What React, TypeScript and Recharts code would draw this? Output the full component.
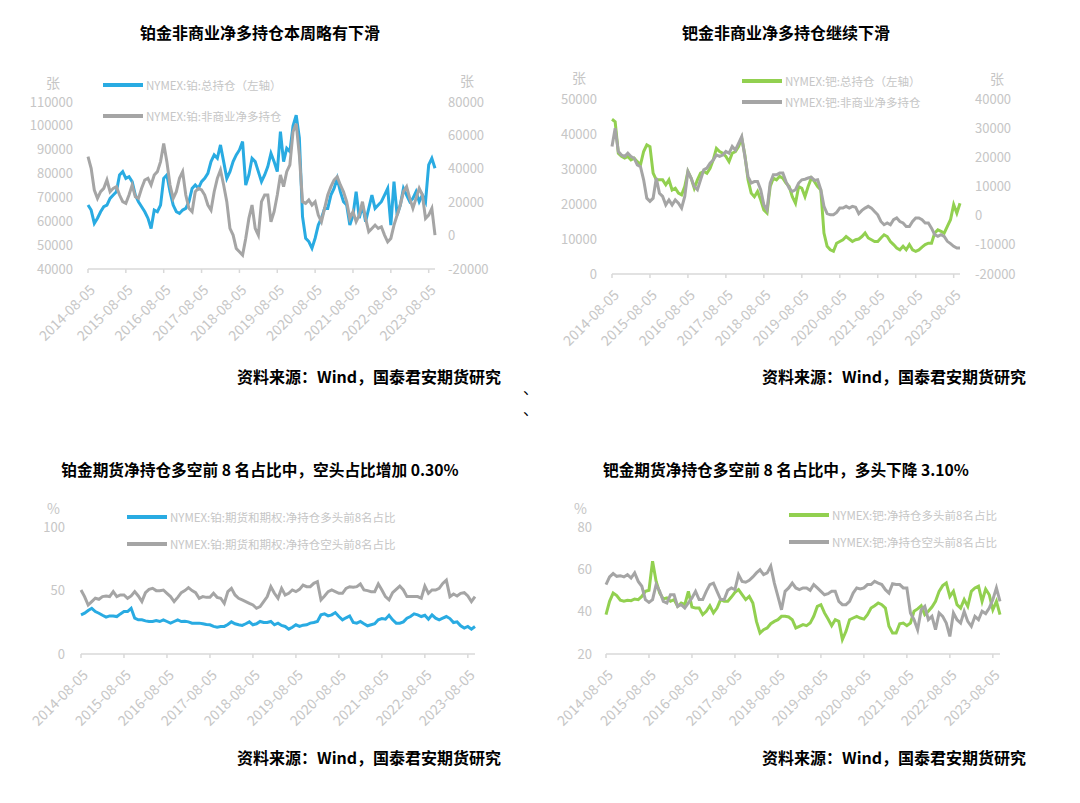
import React from 'react';
import { LineChart, Line, XAxis, YAxis } from 'recharts';

const FONT = "'Noto Sans CJK SC', 'Noto Sans', sans-serif";
const TICK = '#c6c6c6';
const AXIS = '#d9d9d9';
const BLUE = '#29abe2';
const GRAY = '#a5a5a5';
const GREEN = '#92d050';

// x is a month index, 0 = 2014-08 ... 110 = 2023-10
const yearTicks = [0, 12, 24, 36, 48, 60, 72, 84, 96, 108];
const tickLabels = [
  '2014-08-05', '2015-08-05', '2016-08-05', '2017-08-05', '2018-08-05',
  '2019-08-05', '2020-08-05', '2021-08-05', '2022-08-05', '2023-08-05',
];

// 铂: 总持仓 (left axis)
const ptTotalOI = [
  66800, 64700, 59100, 61300, 64000, 66100, 66800, 69600, 71000, 72400,
  79400, 80800, 78000, 78700, 76600, 71000, 68200, 66100, 64000, 61300,
  57000, 64700, 64000, 66800, 78000, 79400, 72400, 66800, 64000, 63300,
  64700, 65400, 68200, 73800, 75200, 73800, 76600, 78000, 80100, 85000,
  87800, 86400, 92000, 85000, 78000, 80800, 85000, 87800, 89900, 93400,
  75200, 79400, 86400, 85000, 80800, 76600, 79400, 82900, 88500, 85000,
  80800, 97600, 85000, 90600, 89200, 100000, 104500, 95000, 62000, 52900,
  51500, 48700, 52900, 58400, 61300, 65400, 65400, 71000, 73800, 78000,
  72400, 68200, 66800, 58400, 62600, 72400, 61300, 66800, 59800, 65400,
  71000, 65400, 66800, 68200, 71000, 73800, 58400, 76600, 62600, 66800,
  73800, 71000, 68200, 69600, 72400, 68200, 71000, 68200, 83600, 86400, 82200,
];
// 铂: 非商业净多持仓 (right axis)
const ptNetLong = [
  47300, 40300, 27300, 22300, 26300, 28300, 33300, 26300, 28300, 29300,
  24300, 20300, 19300, 24300, 30300, 23300, 22300, 28300, 33300, 34300,
  30300, 36300, 38300, 44300, 55200, 44300, 30300, 22300, 26300, 34300,
  38300, 24300, 16300, 14300, 26300, 28300, 27300, 24300, 18300, 15300,
  26300, 34300, 39300, 30300, 20300, 4300, 300, -7700, -9700, -11700,
  -1700, 10300, 18300, 4300, 300, 20300, 24300, 24300, 8300, 14300,
  24300, 36300, 29300, 38300, 42300, 62200, 67000, 48200, 20300, 19300,
  21300, 18300, 20300, 12300, 8300, 16300, 24300, 29300, 33300, 35300,
  30300, 26300, 20300, 10300, 14300, 8300, 12300, 20300, 10300, 2300,
  4300, 6300, 4300, 5300, 300, -3700, -1700, 6300, 12300, 18300,
  26300, 29300, 22300, 16300, 22300, 28300, 24300, 10300, 12300, 16300, 300,
];

// 钯: 总持仓 (left axis)
const pdTotalOI = [
  44200, 43500, 34500, 33600, 33100, 33600, 32600, 33100, 32100, 31200,
  35000, 36900, 36400, 28800, 26900, 26900, 26900, 25500, 26900, 24000,
  24500, 23100, 22600, 25000, 29300, 27400, 24500, 26900, 28800, 29300,
  28800, 30200, 32600, 35900, 35000, 34500, 33600, 32100, 34500, 35000,
  36400, 38800, 34000, 26900, 23100, 22100, 23600, 21200, 18300, 17400,
  25000, 27400, 26900, 27900, 27400, 26000, 25000, 22100, 20200, 25000,
  24500, 22100, 25000, 27400, 26400, 25000, 24000, 11700, 7900, 6900,
  6500, 8800, 9300, 9800, 10700, 10000, 9300, 9800, 10000, 10700,
  11700, 10300, 9800, 9300, 9300, 10300, 11200, 10700, 9300, 8400,
  7400, 6900, 7900, 6900, 8400, 6900, 6500, 6900, 7700, 8400,
  8800, 8800, 11700, 12600, 12200, 11700, 13600, 15500, 19800, 17400, 20200,
];
// 钯: 非商业净多持仓 (right axis)
const pdNetLong = [
  23700, 30000, 22000, 20800, 20300, 21400, 20300, 19700, 17400, 16800,
  12300, 6000, 4900, 6000, 12900, 7700, 6600, 3700, 5400, 3700,
  5400, 4300, 2600, 6600, 15100, 12900, 10000, 8900, 12300, 15700,
  16300, 18000, 19100, 20800, 20300, 20800, 22000, 21400, 23700, 22500,
  24800, 27100, 20300, 13400, 11200, 11700, 11700, 8900, 3700, 2000,
  11200, 14000, 14000, 14600, 14600, 11700, 9400, 8300, 8900, 11200,
  12300, 12500, 12900, 13200, 12100, 12300, 8900, 3200, 700, 300,
  300, 1100, 2600, 2600, 3200, 2600, 3200, 2900, 700, 1800,
  2600, 3200, 2600, 1400, 300, -2000, -3100, -2500, -3100, -1400,
  -800, -2000, -2500, -3700, -3700, -2000, -800, -800, -1400, -2500,
  -2500, -4300, -6500, -7100, -6500, -7100, -8800, -9600, -10500, -11100, -11100,
];

// 铂: 净持仓多头/空头前8名占比 (%)
const ptTop8Long = [
  30.8, 32.1, 34.2, 36.0, 33.4, 32.1, 30.5, 29.0, 30.0, 30.0,
  29.5, 31.6, 33.4, 33.4, 36.0, 28.2, 26.9, 26.9, 26.1, 25.6,
  25.6, 26.4, 25.6, 26.9, 25.6, 24.3, 25.6, 26.9, 25.6, 25.8,
  25.3, 24.3, 24.3, 24.3, 23.8, 23.2, 23.0, 21.7, 21.1, 21.7,
  21.7, 23.2, 25.3, 23.8, 23.0, 22.5, 23.8, 25.3, 23.0, 23.8,
  25.6, 24.8, 24.8, 25.6, 23.0, 24.3, 22.5, 21.7, 19.6, 21.1,
  23.0, 21.7, 22.7, 23.0, 24.3, 24.8, 25.6, 30.8, 31.6, 30.0,
  30.8, 32.6, 29.5, 26.9, 28.5, 30.0, 24.8, 24.3, 25.6, 23.8,
  22.2, 23.0, 23.8, 26.9, 27.9, 27.4, 30.5, 26.9, 24.3, 24.3,
  25.3, 28.2, 29.5, 31.6, 30.8, 29.5, 30.5, 27.4, 30.8, 28.2,
  26.9, 28.2, 29.5, 27.9, 24.8, 25.3, 22.2, 20.4, 21.7, 19.6, 21.7,
];
const ptTop8Short = [
  50.4, 45.2, 38.6, 41.3, 43.9, 43.1, 45.2, 45.7, 45.2, 49.1,
  45.2, 46.5, 46.5, 43.9, 45.7, 49.1, 45.7, 41.3, 48.3, 50.9,
  51.7, 49.9, 49.9, 50.4, 47.8, 45.2, 41.3, 44.6, 48.3, 49.9,
  52.2, 49.9, 48.3, 43.9, 45.2, 44.6, 44.6, 47.8, 44.6, 43.9,
  39.9, 49.1, 51.7, 46.5, 43.9, 42.6, 41.3, 39.9, 38.6, 36.0,
  37.3, 41.3, 45.2, 53.0, 47.8, 43.9, 51.7, 46.5, 47.8, 50.4,
  49.1, 50.9, 54.3, 53.0, 53.0, 55.6, 56.9, 42.6, 45.7, 49.1,
  50.4, 49.1, 47.8, 47.8, 51.7, 53.0, 52.5, 53.0, 55.1, 50.4,
  49.9, 49.1, 49.1, 55.1, 50.4, 45.2, 42.6, 48.3, 50.9, 53.5,
  50.4, 45.2, 45.2, 45.2, 45.2, 43.9, 53.5, 47.8, 50.4, 50.4,
  51.7, 55.6, 58.2, 45.2, 47.3, 45.7, 47.8, 48.3, 45.7, 41.3, 45.2,
];

// 钯: 净持仓多头/空头前8名占比 (%)
const pdTop8Long = [
  38.6, 44.9, 48.8, 47.6, 45.4, 44.9, 45.4, 45.2, 46.0, 45.7,
  47.2, 49.6, 50.1, 63.8, 54.3, 48.8, 46.0, 46.5, 44.9, 45.7,
  42.5, 44.1, 43.3, 49.6, 42.2, 41.7, 41.7, 38.6, 40.2, 42.8,
  39.4, 41.7, 45.7, 44.9, 44.9, 46.9, 49.1, 50.4, 48.0, 45.7,
  47.2, 44.1, 35.4, 29.9, 31.5, 32.3, 34.3, 35.4, 36.2, 37.8,
  37.8, 37.5, 36.2, 32.3, 33.1, 33.9, 33.4, 34.6, 37.8, 42.5,
  43.3, 39.4, 36.5, 33.4, 36.2, 35.4, 26.8, 30.7, 36.2, 37.0,
  37.8, 37.0, 36.5, 38.6, 41.7, 42.8, 44.1, 43.3, 41.7, 33.1,
  29.9, 29.9, 34.3, 34.6, 33.4, 34.6, 40.2, 41.3, 42.8, 38.6,
  40.2, 42.2, 44.9, 49.6, 52.3, 53.5, 47.2, 49.6, 43.3, 41.7,
  45.7, 42.5, 49.6, 51.2, 52.0, 44.9, 50.7, 48.0, 40.9, 44.9, 38.6,
];
const pdTop8Short = [
  52.8, 56.4, 58.0, 56.7, 57.0, 56.4, 57.5, 55.9, 58.3, 54.3,
  52.0, 45.7, 44.4, 45.7, 52.8, 49.6, 44.9, 44.1, 48.0, 48.0,
  42.5, 43.3, 41.7, 44.1, 46.5, 49.6, 45.7, 45.7, 49.6, 52.8,
  53.5, 49.6, 45.7, 45.7, 50.1, 51.2, 50.4, 57.5, 54.3, 53.9,
  54.8, 56.4, 58.3, 59.8, 57.5, 58.3, 61.5, 53.5, 47.2, 40.9,
  49.6, 51.2, 53.5, 51.2, 50.4, 51.2, 51.2, 50.1, 52.8, 51.2,
  49.6, 48.0, 48.5, 49.6, 49.6, 44.9, 43.3, 43.3, 44.9, 48.8,
  51.2, 50.7, 51.2, 52.8, 52.8, 54.3, 53.5, 52.8, 50.4, 48.8,
  53.2, 52.8, 52.8, 51.2, 51.2, 39.4, 36.2, 31.5, 40.9, 42.5,
  36.2, 37.8, 31.5, 39.4, 37.8, 34.6, 28.3, 39.4, 36.2, 34.6,
  40.2, 35.4, 33.1, 37.8, 36.2, 40.2, 39.1, 41.7, 45.7, 51.2, 44.9,
];

const rows = (a: number[], b: number[]) => a.map((v, i) => ({ i, a: v, b: b[i] }));

const DateTick = (props: any) => {
  const { x, y, payload } = props;
  const ax = x + 8;
  const ay = y + 16;
  return (
    <text
      x={ax}
      y={ay}
      textAnchor="end"
      transform={`rotate(-45, ${ax}, ${ay})`}
      fill={TICK}
      fontSize={14}
      fontFamily={FONT}
    >
      {tickLabels[Math.round(payload.value / 12)]}
    </text>
  );
};

type AxisSpec = { domain: number[]; ticks: number[]; width: number; gap: number };

function Panel(props: {
  left: number;
  top: number;
  width: number;
  height: number;
  margin: { top: number; right: number; bottom: number; left: number };
  xHeight: number;
  leftAxis: AxisSpec;
  rightAxis?: AxisSpec;
  data: { i: number; a: number; b: number }[];
  colorA: string;
  colorB: string;
}) {
  const { leftAxis, rightAxis } = props;
  const tickStyle = { fill: TICK, fontSize: 13, fontFamily: FONT };
  return (
    <div style={{ position: 'absolute', left: props.left, top: props.top }}>
      <LineChart width={props.width} height={props.height} data={props.data} margin={props.margin}>
        <XAxis
          dataKey="i"
          type="number"
          domain={[0, 110]}
          ticks={yearTicks}
          interval={0}
          height={props.xHeight}
          stroke={AXIS}
          strokeWidth={1.5}
          tickSize={4}
          tickMargin={2}
          tick={<DateTick />}
        />
        <YAxis
          yAxisId="left"
          domain={leftAxis.domain}
          ticks={leftAxis.ticks}
          interval={0}
          width={leftAxis.width}
          axisLine={false}
          tickLine={false}
          tickSize={0}
          tickMargin={leftAxis.gap}
          tick={tickStyle}
        />
        {rightAxis && (
          <YAxis
            yAxisId="right"
            orientation="right"
            domain={rightAxis.domain}
            ticks={rightAxis.ticks}
            interval={0}
            width={rightAxis.width}
            axisLine={false}
            tickLine={false}
            tickSize={0}
            tickMargin={rightAxis.gap}
            tick={tickStyle}
          />
        )}
        <Line
          yAxisId="left"
          dataKey="a"
          stroke={props.colorA}
          strokeWidth={3}
          dot={false}
          isAnimationActive={false}
        />
        <Line
          yAxisId={rightAxis ? 'right' : 'left'}
          dataKey="b"
          stroke={props.colorB}
          strokeWidth={3}
          dot={false}
          isAnimationActive={false}
        />
      </LineChart>
    </div>
  );
}

function LegendRows({ x, y, gap, items }: { x: number; y: number; gap: number; items: { color: string; label: string }[] }) {
  return (
    <>
      {items.map((it, k) => (
        <div
          key={k}
          style={{
            position: 'absolute',
            left: x,
            top: y + k * gap - 9,
            height: 18,
            display: 'flex',
            alignItems: 'center',
            whiteSpace: 'nowrap',
          }}
        >
          <span style={{ display: 'inline-block', width: 40, height: 3.5, background: it.color, marginRight: 3 }} />
          <span style={{ fontSize: 11.5, color: TICK, lineHeight: '18px' }}>{it.label}</span>
        </div>
      ))}
    </>
  );
}

function Label({ x, y, text, size = 14, color = TICK, bold = false, center = false, lh = 20 }: any) {
  return (
    <div
      style={{
        position: 'absolute',
        left: center ? x - 300 : x,
        width: center ? 600 : undefined,
        top: y - lh / 2,
        lineHeight: `${lh}px`,
        fontSize: size,
        fontWeight: bold ? 700 : 400,
        color,
        textAlign: center ? 'center' : 'left',
        whiteSpace: 'nowrap',
      }}
    >
      {text}
    </div>
  );
}

const SOURCE = '资料来源：Wind，国泰君安期货研究';

export default function App() {
  return (
    <div
      style={{
        position: 'absolute',
        left: 0,
        top: 0,
        width: 1080,
        height: 803,
        background: '#fff',
        fontFamily: FONT,
        overflow: 'hidden',
      }}
    >
      {/* titles */}
      <Label x={260} y={32} text="铂金非商业净多持仓本周略有下滑" size={16} color="#000" bold center />
      <Label x={786} y={32} text="钯金非商业净多持仓继续下滑" size={16} color="#000" bold center />
      <Label x={260} y={470} text="铂金期货净持仓多空前 8 名占比中，空头占比增加 0.30%" size={15.7} color="#000" bold center />
      <Label x={786} y={470} text="钯金期货净持仓多空前 8 名占比中，多头下降 3.10%" size={15.7} color="#000" bold center />

      {/* chart 1 */}
      <Panel
        left={0}
        top={60}
        width={520}
        height={300}
        margin={{ top: 42, right: 0, bottom: 21, left: 0 }}
        xHeight={70}
        leftAxis={{ domain: [40000, 110000], ticks: [40000, 50000, 60000, 70000, 80000, 90000, 100000, 110000], width: 88, gap: 15 }}
        rightAxis={{ domain: [-20000, 80000], ticks: [-20000, 0, 20000, 40000, 60000, 80000], width: 85, gap: 13 }}
        data={rows(ptTotalOI, ptNetLong)}
        colorA={BLUE}
        colorB={GRAY}
      />
      <Label x={46} y={82} text="张" lh={14} />
      <Label x={460} y={80} text="张" lh={14} />
      <LegendRows
        x={103}
        y={85}
        gap={31}
        items={[
          { color: BLUE, label: 'NYMEX:铂:总持仓（左轴）' },
          { color: GRAY, label: 'NYMEX:铂:非商业净多持仓' },
        ]}
      />

      {/* chart 2 */}
      <Panel
        left={530}
        top={60}
        width={520}
        height={300}
        margin={{ top: 39, right: 0, bottom: 16, left: 0 }}
        xHeight={70}
        leftAxis={{ domain: [0, 50000], ticks: [0, 10000, 20000, 30000, 40000, 50000], width: 82, gap: 15 }}
        rightAxis={{ domain: [-20000, 40000], ticks: [-20000, -10000, 0, 10000, 20000, 30000, 40000], width: 90, gap: 15 }}
        data={rows(pdTotalOI, pdNetLong)}
        colorA={GREEN}
        colorB={GRAY}
      />
      <Label x={572} y={77} text="张" lh={14} />
      <Label x={990} y={78} text="张" lh={14} />
      <LegendRows
        x={742}
        y={81}
        gap={21}
        items={[
          { color: GREEN, label: 'NYMEX:钯:总持仓（左轴）' },
          { color: GRAY, label: 'NYMEX:钯:非商业净多持仓' },
        ]}
      />

      {/* chart 3 */}
      <Panel
        left={0}
        top={490}
        width={500}
        height={250}
        margin={{ top: 37, right: 25, bottom: 6, left: 0 }}
        xHeight={80}
        leftAxis={{ domain: [0, 100], ticks: [0, 50, 100], width: 81, gap: 16 }}
        data={rows(ptTop8Long, ptTop8Short)}
        colorA={BLUE}
        colorB={GRAY}
      />
      <Label x={47} y={508} text="%" lh={14} />
      <LegendRows
        x={127}
        y={517}
        gap={27}
        items={[
          { color: BLUE, label: 'NYMEX:铂:期货和期权:净持仓多头前8名占比' },
          { color: GRAY, label: 'NYMEX:铂:期货和期权:净持仓空头前8名占比' },
        ]}
      />

      {/* chart 4 */}
      <Panel
        left={530}
        top={490}
        width={530}
        height={250}
        margin={{ top: 37, right: 60, bottom: 6, left: 0 }}
        xHeight={80}
        leftAxis={{ domain: [20, 80], ticks: [20, 40, 60, 80], width: 76, gap: 14 }}
        data={rows(pdTop8Long, pdTop8Short)}
        colorA={GREEN}
        colorB={GRAY}
      />
      <Label x={574} y={508} text="%" lh={12} />
      <LegendRows
        x={789}
        y={515}
        gap={27}
        items={[
          { color: GREEN, label: 'NYMEX:钯:净持仓多头前8名占比' },
          { color: GRAY, label: 'NYMEX:钯:净持仓空头前8名占比' },
        ]}
      />

      {/* sources */}
      <Label x={237} y={376} text={SOURCE} size={16} color="#000" bold />
      <Label x={762} y={376} text={SOURCE} size={16} color="#000" bold />
      <Label x={237} y={757} text={SOURCE} size={16} color="#000" bold />
      <Label x={762} y={757} text={SOURCE} size={16} color="#000" bold />
      <Label x={523} y={388} text="、" size={15} color="#000" />
      <Label x={523} y={409} text="、" size={15} color="#000" />
    </div>
  );
}
